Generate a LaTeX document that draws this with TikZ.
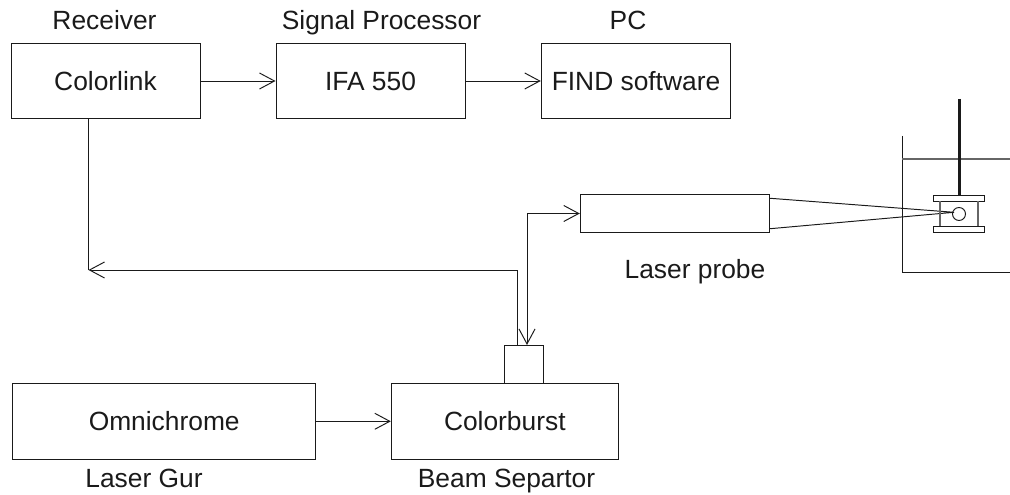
\documentclass[tikz,border=0pt]{standalone}
\usepackage{fontspec}
\setmainfont{Liberation Sans}
\usetikzlibrary{arrows.meta,calc}
\definecolor{ink}{HTML}{1A1A1A}
\definecolor{water}{HTML}{666666}

\begin{document}
\begin{tikzpicture}[font=\fontsize{15}{18}\selectfont,text=ink,
    line width=.55pt,
    >={Straight Barb[length=.3cm,width=.32cm]},
    unitbox/.style={draw=ink,inner sep=0pt,minimum height=1.51cm},
    caption/.style={anchor=base,inner sep=0pt}]
  \useasboundingbox (0,0) rectangle (20.2,9.9);

  \node[unitbox,minimum width=3.78cm] (colorlink) at (2.11,8.28) {Colorlink};
  \node[unitbox,minimum width=3.78cm] (ifa) at (7.41,8.28) {IFA 550};
  \node[unitbox,minimum width=3.79cm] (find) at (12.72,8.28) {FIND software};
  \node[draw=ink,inner sep=0pt,minimum width=3.79cm,minimum height=.75cm] (probe)
    at (13.5,5.63) {};
  \node[unitbox,minimum width=6.06cm] (omnichrome) at (3.284,1.474)
    {Omnichrome\hspace{.36cm}};
  \node[unitbox,minimum width=4.54cm] (colorburst) at (10.096,1.474) {Colorburst};
  \node[draw=ink,inner sep=0pt,minimum width=.766cm,minimum height=.75cm] (port)
    at (10.477,2.61) {};

  \node[caption] (receiver) at (2.09,9.30) {Receiver};
  \node[caption] (processor) at (7.63,9.30) {Signal Processor};
  \node[caption] (pc) at (12.56,9.30) {PC};
  \node[caption] (probelabel) at (13.9,4.33) {Laser probe};
  \node[caption] (gun) at (2.88,.15) {Laser Gur};
  \node[caption] (separator) at (10.13,.15) {Beam Separtor};

  \coordinate (down) at (1.77,7.52);
  \coordinate (corner) at (1.77,4.5);
  \coordinate (back) at (10.35,3);
  \coordinate (backup) at (10.35,4.5);
  \coordinate (out) at (10.54,3);
  \coordinate (outup) at (10.54,5.63);

  \draw[->,ink] (colorlink) -- (ifa);
  \draw[->,ink] (ifa) -- (find);
  \draw[->,ink] (omnichrome) -- (colorburst);
  \draw[ink] (down) -- (corner);
  \draw[->,ink] (back) -- (backup) -- (corner);
  \draw[<->,ink] (out) -- (outup) -- (probe.west);

  \coordinate (focus) at (19.08,5.654);
  \draw[ink] ($(probe.east)+(0,.304)$) -- (focus)
    -- ($(probe.east)+(0,-.304)$);

  \draw[ink] (18.04,7.18) -- (18.04,4.46) -- (20.2,4.46);
  \draw[water,line width=.8pt] (18.04,6.72) -- (20.2,6.72);
  \draw[ink,line width=1.7pt] (19.18,7.92) -- (19.18,5.98);
  \draw[ink] (18.66,5.88) rectangle (19.686,6.0);
  \draw[ink] (18.66,5.246) rectangle (19.686,5.38);
  \draw[water,line width=.7pt] (18.8,5.88) -- (18.8,5.38)
    (19.56,5.88) -- (19.56,5.38);
  \draw[ink] (19.18,5.62) circle (.13);
\end{tikzpicture}
\end{document}
